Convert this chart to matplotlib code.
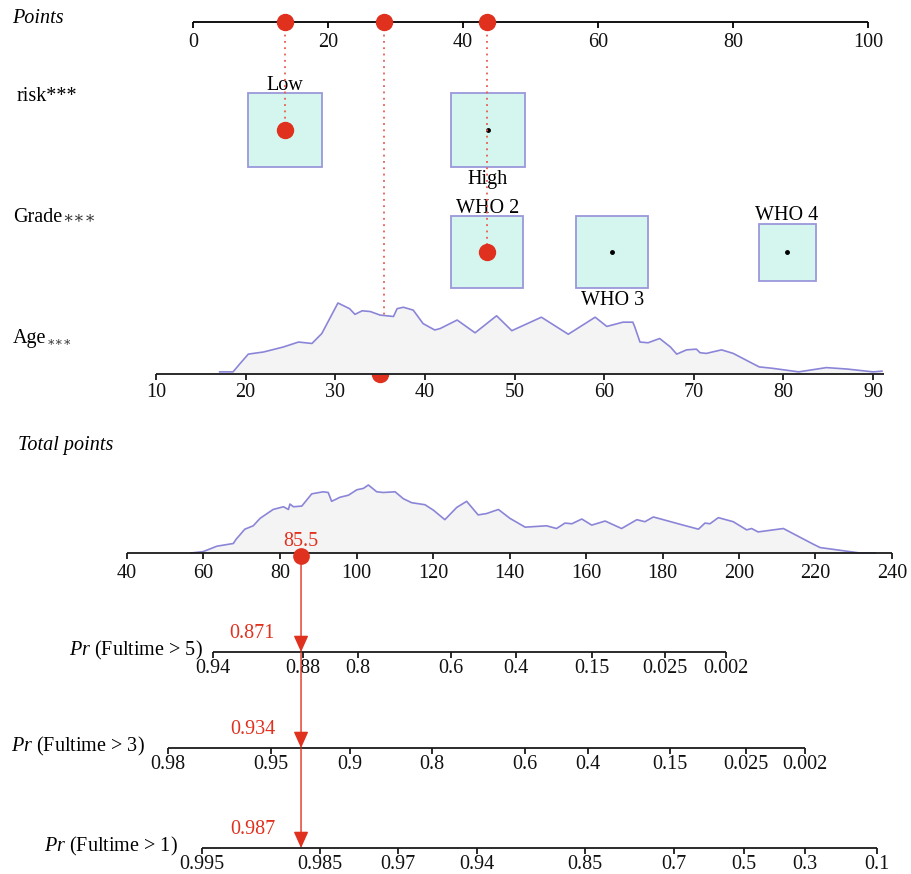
import matplotlib
matplotlib.use('Agg')
import matplotlib.pyplot as plt

plt.rcParams['font.family'] = ['Liberation Serif', 'DejaVu Serif']
plt.rcParams['mathtext.fontset'] = 'custom'
plt.rcParams['mathtext.rm'] = 'Liberation Serif'
plt.rcParams['mathtext.it'] = 'Liberation Serif:italic'

# ---- nomogram data ----
points_ticks = [0, 20, 40, 60, 80, 100]

risk_levels = ['Low', 'High']
risk_points = [13.6, 43.7]

grade_levels = ['WHO 2', 'WHO 3', 'WHO 4']
grade_points = [43.6, 62.1, 88.0]

age_ticks = [10, 20, 30, 40, 50, 60, 70, 80, 90]
age_grid = [17.1, 18.6, 19.4, 20.3, 22.0, 24.2, 25.9, 27.4, 28.5, 30.3, 31.6,
            32.2, 33.0, 33.9, 35.0, 36.5, 36.9, 37.6, 38.7, 39.8, 41.1, 41.7,
            43.6, 45.6, 48.0, 49.7, 53.0, 56.0, 59.0, 60.3, 62.1, 63.2, 63.4,
            64.0, 64.9, 66.2, 67.4, 68.1, 69.2, 70.3, 70.7, 71.4, 73.1, 74.4,
            77.3, 78.8, 81.7, 84.8, 87.1, 90.0, 91.0]
age_density = [0.03, 0.03, 0.15, 0.28, 0.31, 0.38, 0.45, 0.43, 0.57, 1.00, 0.92,
               0.84, 0.89, 0.88, 0.83, 0.81, 0.92, 0.94, 0.90, 0.71, 0.62, 0.64,
               0.76, 0.58, 0.82, 0.61, 0.80, 0.56, 0.80, 0.67, 0.73, 0.73, 0.67,
               0.45, 0.44, 0.50, 0.38, 0.28, 0.34, 0.35, 0.30, 0.29, 0.34, 0.29,
               0.10, 0.08, 0.03, 0.09, 0.07, 0.03, 0.04]

total_ticks = [40, 60, 80, 100, 120, 140, 160, 180, 200, 220, 240]
total_grid = [56.7, 59.9, 63.5, 67.8, 68.5, 70.8, 73.0, 74.8, 78.2, 80.9, 82.2,
              82.6, 83.5, 85.7, 88.3, 91.3, 92.6, 93.5, 95.7, 97.9, 100.1, 101.8,
              103.1, 105.3, 107.0, 110.1, 112.2, 114.4, 117.9, 120.1, 123.1,
              126.2, 128.8, 131.8, 134.0, 137.1, 140.1, 144.1, 149.7, 152.3,
              154.5, 156.3, 158.9, 161.5, 165.0, 169.3, 173.3, 175.4, 177.6,
              185.4, 189.4, 191.1, 192.4, 194.6, 198.5, 202.0, 203.3, 205.0,
              211.6, 219.4, 221.2, 226.4, 231.6, 235.6]
total_density = [0.0, 0.02, 0.10, 0.14, 0.20, 0.35, 0.40, 0.51, 0.64, 0.68, 0.64,
                 0.72, 0.68, 0.69, 0.87, 0.90, 0.89, 0.76, 0.82, 0.85, 0.93, 0.95,
                 1.00, 0.90, 0.89, 0.90, 0.80, 0.74, 0.71, 0.63, 0.49,
                 0.67, 0.76, 0.56, 0.58, 0.64, 0.51, 0.38, 0.40, 0.36,
                 0.44, 0.43, 0.50, 0.41, 0.47, 0.36, 0.49, 0.46, 0.53,
                 0.41, 0.35, 0.44, 0.43, 0.52, 0.46, 0.34, 0.36, 0.31,
                 0.36, 0.13, 0.08, 0.04, 0.0, 0.0]

# patient shown on the nomogram
sel_risk = 'Low'
sel_grade = 'WHO 2'
sel_age = 35
sel_points = [13.6, 43.6, 28.3]   # risk, grade, age
total_score = 85.5

pr_titles = ['Fultime > 5', 'Fultime > 3', 'Fultime > 1']
pr5_labels = ['0.94', '0.88', '0.8', '0.6', '0.4', '0.15', '0.025', '0.002']
pr5_at = [62.5, 86.0, 100.4, 124.7, 141.7, 161.6, 180.7, 196.6]
pr3_labels = ['0.98', '0.95', '0.9', '0.8', '0.6', '0.4', '0.15', '0.025', '0.002']
pr3_at = [50.7, 77.6, 98.3, 119.7, 144.1, 160.5, 182.0, 201.8, 217.3]
pr1_labels = ['0.995', '0.985', '0.97', '0.94', '0.85', '0.7', '0.5', '0.3', '0.1']
pr1_at = [59.6, 90.5, 110.8, 131.5, 159.7, 183.0, 201.3, 217.3, 236.1]
pred_prob = [0.871, 0.934, 0.987]

# ---- styling / layout (pixels) ----
W, H = 912, 874
Y_POINTS, Y_RISK, Y_GRADE, Y_AGE, Y_TOTAL = 22, 130, 252, 374, 553
Y_PR = [652, 748, 848]
PR_GAP = [10, 23, 24]
AGE_H, TOT_H = 71, 68
box_px = {'Low': 74, 'High': 74, 'WHO 2': 72, 'WHO 3': 72, 'WHO 4': 57}
label_above = {'Low': True, 'High': False, 'WHO 2': True, 'WHO 3': False, 'WHO 4': True}

RED = '#e0301e'
RED_DOT = '#ea5a50'
BOX_FILL = '#d5f5ef'
BOX_EDGE = '#9b97dc'
DENS_LINE = '#8b85d8'
DENS_FILL = '#f4f4f4'
AXC = '#1a1a1a'
FS = 14.5
TICK = 6
LW = 1.3

fig = plt.figure(figsize=(W / 100, H / 100), dpi=100)


def scale_axes(v0, px0, v1, px1):
    ax = fig.add_axes([0, 0, 1, 1])
    k = (px1 - px0) / (v1 - v0)
    ax.set_xlim(v0 - px0 / k, v0 + (W - px0) / k)
    ax.set_ylim(H, 0)
    ax.set_axis_off()
    return ax


def draw_scale(ax, y, ticks, labels, lo=None, hi=None, dy=25, color=AXC):
    lo = ticks[0] if lo is None else lo
    hi = ticks[-1] if hi is None else hi
    ax.plot([lo, hi], [y, y], color=color, lw=LW, solid_capstyle='butt', zorder=4)
    ax.vlines(ticks, y, y + TICK, color=color, lw=LW, zorder=4)
    for t, s in zip(ticks, labels):
        ax.text(t, y + dy, s, ha='center', va='baseline', fontsize=FS, color='#111')


ax_px = scale_axes(0, 0, W, W)
ax_pts = scale_axes(0, 193, 100, 868)
ax_age = scale_axes(10, 156, 90, 873)
ax_tot = scale_axes(40, 127, 240, 892)

# row titles
ax_px.text(12, 23, 'Points', fontsize=FS, style='italic', va='baseline')
ax_px.text(17, 101, 'risk***', fontsize=FS, va='baseline')
t = ax_px.text(13, 222, 'Grade', fontsize=FS, va='baseline')
ax_px.annotate('\u2217\u2217\u2217', xy=(1, 222), xycoords=(t, 'data'),
               fontsize=12, va='baseline', family='DejaVu Serif', color='#333')
t = ax_px.text(13, 343, 'Age', fontsize=FS, va='baseline')
ax_px.annotate('\u2217\u2217\u2217', xy=(1, 345), xycoords=(t, 'data'),
               fontsize=9, va='baseline', family='DejaVu Serif', color='#333')
ax_px.text(18, 450, 'Total points', fontsize=FS, style='italic', va='baseline')

# points scale
draw_scale(ax_pts, Y_POINTS, points_ticks, [str(v) for v in points_ticks], color='black')

# categorical boxes
for levels, pts, row_y, chosen in [(risk_levels, risk_points, Y_RISK, sel_risk),
                                   (grade_levels, grade_points, Y_GRADE, sel_grade)]:
    for lev, p in zip(levels, pts):
        side = box_px[lev]
        ax_pts.plot(p, row_y, marker='s', ms=side * 0.72, mfc=BOX_FILL, mec=BOX_EDGE,
                    mew=1.3, zorder=2)
        if lev == chosen:
            ax_pts.plot(p, row_y, 'o', ms=11.5, color=RED, zorder=6)
        else:
            ax_pts.plot(p, row_y, 'o', ms=2.5, color='black', zorder=3)
        if label_above[lev]:
            ax_pts.text(p, row_y - side / 2 - 3, lev, ha='center', va='baseline', fontsize=FS)
        else:
            ax_pts.text(p, row_y + side / 2 + 17, lev, ha='center', va='baseline', fontsize=FS)

# dotted guides from the points scale
ax_pts.vlines(sel_points, Y_POINTS, [Y_RISK, Y_GRADE, Y_AGE], colors=RED_DOT,
              linestyles=(0, (1, 2.5)), lw=1.3, zorder=5)
ax_pts.plot(sel_points, [Y_POINTS] * len(sel_points), 'o', ms=11.5, color=RED, zorder=6)

# age density and scale
ax_age.plot(sel_age, Y_AGE, 'o', ms=11.5, color=RED, zorder=1)
age_top = [Y_AGE - d * AGE_H for d in age_density]
ax_age.fill_between(age_grid, age_top, Y_AGE, color=DENS_FILL, lw=0, zorder=2)
ax_age.plot(age_grid, age_top, color=DENS_LINE, lw=1.2, zorder=3)
draw_scale(ax_age, Y_AGE, age_ticks, [str(v) for v in age_ticks], hi=91.2, dy=23)

# total points density and scale
tot_top = [Y_TOTAL - d * TOT_H for d in total_density]
ax_tot.fill_between(total_grid, tot_top, Y_TOTAL, color=DENS_FILL, lw=0, zorder=2)
ax_tot.plot(total_grid, tot_top, color=DENS_LINE, lw=1.2, zorder=3)
draw_scale(ax_tot, Y_TOTAL, total_ticks, [str(v) for v in total_ticks])

# survival probability scales
pr_sets = [(pr5_at, pr5_labels), (pr3_at, pr3_labels), (pr1_at, pr1_labels)]
for (at, labs), y, title, gap, prob in zip(pr_sets, Y_PR, pr_titles, PR_GAP, pred_prob):
    draw_scale(ax_tot, y, at, labs, dy=21)
    ax_tot.annotate(r'$\mathit{Pr}$ (' + title + ')', xy=(at[0], y - 2),
                    xytext=(-gap, 0), textcoords='offset pixels',
                    ha='right', va='center', fontsize=FS)
    ax_tot.annotate(f'{prob:.3f}', xy=(total_score, y), xytext=(-26, 19),
                    textcoords='offset pixels', ha='right', va='center',
                    fontsize=FS, color=RED)

# projected total score
seg_y = [Y_TOTAL + 3] + Y_PR
for y0, y1 in zip(seg_y[:-1], seg_y[1:]):
    ax_tot.annotate('', xy=(total_score, y1), xytext=(total_score, y0),
                    arrowprops=dict(arrowstyle='-|>,head_length=1.0,head_width=0.45',
                                    color=RED, lw=1.0, shrinkA=0, shrinkB=0,
                                    mutation_scale=10), zorder=5)
ax_tot.plot(total_score, Y_TOTAL + 3, 'o', ms=11, color=RED, zorder=6)
ax_tot.text(total_score, Y_TOTAL - 11, f'{total_score}', ha='center', va='center',
            fontsize=FS, color=RED)

fig.savefig('out.png', dpi=100)
